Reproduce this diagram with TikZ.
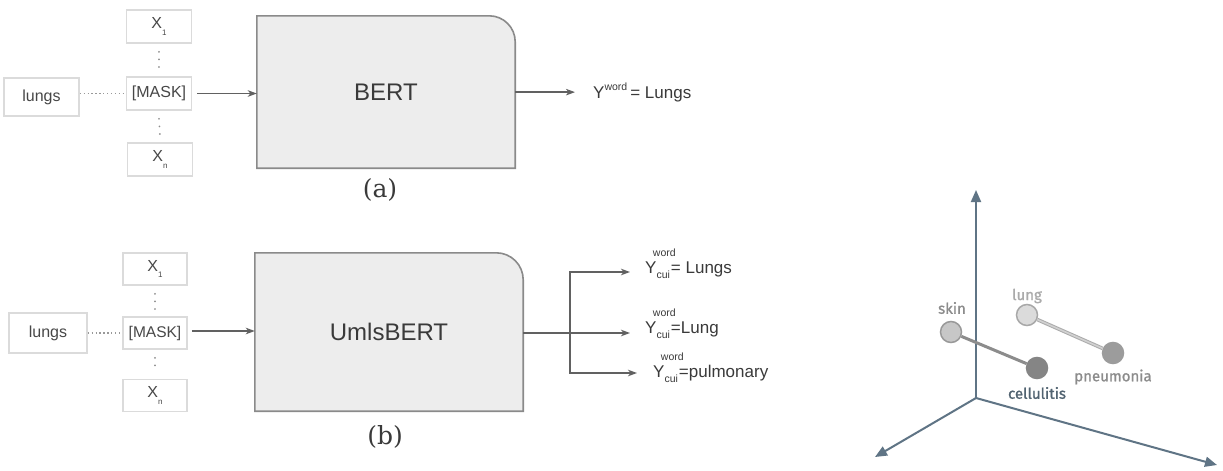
\documentclass[tikz,border=0pt]{standalone}
\usepackage{fontspec}
\setmainfont{Liberation Sans}
\newfontfamily\serifA{DejaVu Serif}
\newfontface\fira[FakeBold=1.1]{Fira Sans}
\usetikzlibrary{arrows.meta,backgrounds}
\pgfdeclarelayer{bglowest}
\pgfsetlayers{bglowest,background,main}
\newcommand\fsz[1]{\fontsize{#1}{#1}\selectfont}
\newcommand\ywc{Y\rlap{\kern-0.21em\raisebox{1.0em}{\fsz{10.5}word}}\raisebox{-0.35em}{\fsz{10.5}cui}\kern1pt}
\definecolor{axisc}{HTML}{5F7485}
\definecolor{txtc}{HTML}{3A3A3A}
\tikzset{
  inbox/.style={draw=black!14, line width=1.5pt, fill=white, text=black!72, font=\fsz{16}, inner sep=0pt},
  tokbox/.style={inbox, minimum width=65pt, minimum height=33pt},
  bigshape/.style={fill=black!7, draw=black!46, line width=1.6pt},
  bignode/.style={inner sep=0pt, text=txtc, font=\fsz{24}},
  dotl/.style={draw=black!40, line width=1.3pt, dash pattern=on 1.3pt off 2.6pt},
  vdots/.style={draw=black!45, line width=1.8pt, dash pattern=on 0.1pt off 7.5pt, line cap=round},
  arr/.style={draw=black!62, line width=1.3pt, -{Stealth[length=9pt,width=6.5pt,inset=2.5pt]}},
  outtxt/.style={text=txtc, font=\fsz{17}, inner sep=0pt},
  caplbl/.style={text=txtc, font=\serifA\fsz{25}, inner sep=0pt},
  axisl/.style={draw=axisc, line width=2pt, -{Triangle[length=12pt,width=10pt]}},
  dot/.style={circle, minimum size=21pt, inner sep=0pt, line width=1.5pt},
  ptl/.style={font=\fira\fsz{15}, inner sep=0pt}
}
\begin{document}
\begin{tikzpicture}[x=1pt,y=-1pt]
\useasboundingbox (0,0) rectangle (1223,471);
\begin{pgfonlayer}{bglowest}
\fill[white] (0,0) rectangle (1223,471);
\end{pgfonlayer}

% ---------------- (a) ----------------
\node[inbox, minimum width=75pt, minimum height=38pt] (lungsA) at (41.5,97) {lungs};
\node[tokbox] (x1A) at (159,26.5) {X\raisebox{-0.4em}{\fsz{8}1}};
\node[tokbox] (maskA) at (159,93.5) {[MASK]};
\node[tokbox] (xnA) at (160,159.5) {X\raisebox{-0.4em}{\fsz{8}n}};
\draw[dotl] (lungsA.east |- maskA.west) -- (maskA.west);
\draw[vdots] ([yshift=-8pt]x1A.south) -- ([yshift=6pt]maskA.north);
\draw[vdots] ([yshift=-8pt]maskA.south) -- ([yshift=6pt]xnA.north);

\node[bignode, minimum width=258pt, minimum height=152pt] (bert) at (386,92) {BERT};
\begin{scope}[on background layer]
\draw[bigshape] (bert.south west) -- (bert.north west) -- ([xshift=-26pt]bert.north east)
  arc[start angle=90,end angle=0,radius=26pt] -- (bert.south east) -- cycle;
\end{scope}
\draw[arr, shorten <=5pt] (maskA.east) -- (maskA.east -| bert.west);

\node[outtxt, anchor=base west] (ya) at (593,98) {Y\raisebox{0.45em}{\fsz{10.5}word}\kern3pt= Lungs};
\draw[arr] (bert.east |- ya.west) -- ([xshift=-18pt]ya.west);
\node[caplbl] (capA) at (380,190) {(a)};

% ---------------- (b) ----------------
\node[inbox, minimum width=78pt, minimum height=40pt] (lungsB) at (48,333) {lungs};
\node[tokbox, minimum width=64pt, minimum height=32pt] (x1B) at (155,269) {X\raisebox{-0.4em}{\fsz{8}1}};
\node[tokbox, minimum width=64pt, minimum height=32pt, font=\fsz{15.5}] (maskB) at (155,333) {[MASK]};
\node[tokbox, minimum width=64pt, minimum height=32pt] (xnB) at (155,395.5) {X\raisebox{-0.4em}{\fsz{8}n}};
\draw[dotl] (lungsB.east |- maskB.west) -- (maskB.west);
\draw[vdots] ([yshift=-8pt]x1B.south) -- ([yshift=6pt]maskB.north);
\draw[vdots] ([yshift=-8pt]maskB.south) -- ([yshift=6pt]xnB.north);

\node[bignode, minimum width=268pt, minimum height=158pt] (umls) at (389,332) {UmlsBERT};
\begin{scope}[on background layer]
\draw[bigshape] (umls.south west) -- (umls.north west) -- ([xshift=-27pt]umls.north east)
  arc[start angle=90,end angle=0,radius=27pt] -- (umls.south east) -- cycle;
\end{scope}
\draw[arr, shorten <=4pt] ([yshift=2pt]maskB.east) -- ([yshift=2pt]maskB.east -| umls.west);

\node[outtxt, anchor=base west] (o1) at (645,273) {\ywc= Lungs};
\node[outtxt, anchor=base west] (o2) at (645,333) {\ywc=Lung};
\node[outtxt, anchor=base west] (o3) at (653,377) {\ywc=pulmonary};
\coordinate (J) at (570,333);
\draw[draw=black!62, line width=1.3pt] (umls.east |- J) -- (J);
\draw[arr] (J) |- ([xshift=-15pt,yshift=1pt]o1.base west);
\draw[arr] (J) -- ([xshift=-15pt]o2.base west |- J);
\draw[arr] (J) |- ([xshift=-16pt,yshift=4pt]o3.base west);
\node[caplbl] (capB) at (385,437) {(b)};

% ---------------- embedding space ----------------
\coordinate (O) at (976,398);
\coordinate (ay) at (976,190);
\coordinate (ax) at (875,457);
\coordinate (az) at (1217,465);
\draw[axisl] (O) -- (ay);
\draw[axisl] (O) -- (ax);
\draw[axisl] (O) -- (az);

\node[dot, fill=black!22, draw=black!40] (skin) at (951,332) {};
\node[dot, fill=black!48, draw=black!48] (cell) at (1037,368) {};
\node[dot, fill=black!14, draw=black!34] (lung) at (1027,315) {};
\node[dot, fill=black!39, draw=black!39] (pneu) at (1113,353) {};
\draw[draw=black!45, line width=3pt] (skin) -- (cell);
\draw[draw=black!33, line width=1pt, double=black!18, double distance=1.6pt] (lung) -- (pneu);

\node[ptl, text=black!45] (lskin) at (952,308) {skin};
\node[ptl, text=black!33] (llung) at (1027,296) {lung};
\node[ptl, text=axisc!85!black] (lcell) at (1037,393) {cellulitis};
\node[ptl, text=black!45] (lpneu) at (1113,377) {pneumonia};
\end{tikzpicture}
\end{document}
